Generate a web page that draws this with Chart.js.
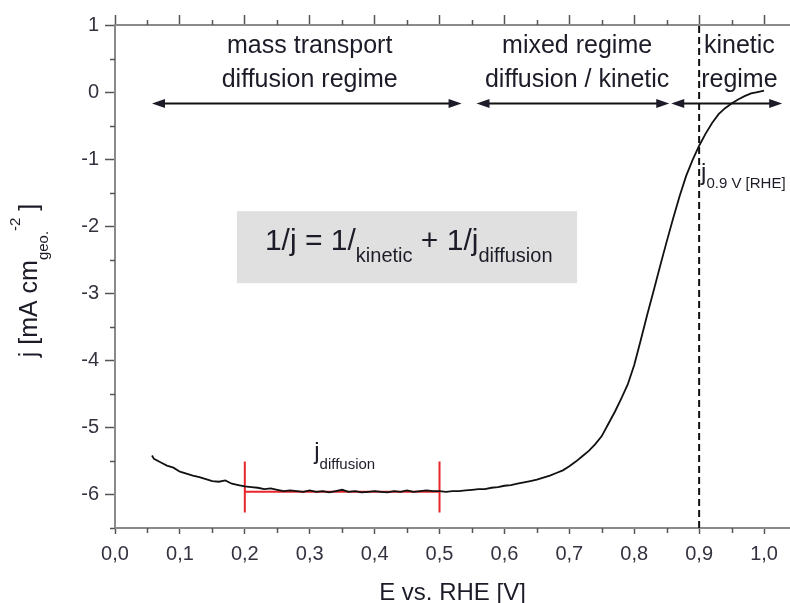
<!DOCTYPE html>
<html>
<head>
<meta charset="utf-8">
<script src="https://cdn.jsdelivr.net/npm/chart.js@4.4.1/dist/chart.umd.min.js"></script>
<style>
  html, body { margin: 0; padding: 0; background: #fff; }
  #wrap { width: 790px; height: 603px; position: relative; }
</style>
</head>
<body>
<div id="wrap"><canvas id="orrChart"></canvas></div>
<script>
// polarisation curve, E vs. RHE
const potential = [0.057, 0.06, 0.07, 0.08, 0.09, 0.10, 0.11, 0.12, 0.13, 0.14,
  0.15, 0.16, 0.17, 0.18, 0.19, 0.20, 0.21, 0.22, 0.23, 0.24,
  0.25, 0.26, 0.27, 0.28, 0.29, 0.30, 0.31, 0.32, 0.33, 0.34,
  0.35, 0.36, 0.37, 0.38, 0.39, 0.40, 0.41, 0.42, 0.43, 0.44,
  0.45, 0.46, 0.47, 0.48, 0.49, 0.50, 0.51, 0.52, 0.53, 0.54,
  0.55, 0.56, 0.57, 0.58, 0.59, 0.60, 0.61, 0.62, 0.63, 0.64,
  0.65, 0.66, 0.67, 0.68, 0.69, 0.70, 0.71, 0.72, 0.73, 0.74,
  0.75, 0.76, 0.77, 0.78, 0.79, 0.80, 0.81, 0.82, 0.83, 0.84,
  0.85, 0.86, 0.87, 0.88, 0.89, 0.90, 0.91, 0.92, 0.93, 0.94,
  0.95, 0.96, 0.97, 0.98, 0.99, 1.00];
const current = [-5.42, -5.47, -5.52, -5.57, -5.60, -5.66, -5.69, -5.72, -5.74, -5.77,
  -5.80, -5.81, -5.79, -5.84, -5.86, -5.88, -5.89, -5.90, -5.92, -5.91,
  -5.93, -5.95, -5.94, -5.95, -5.96, -5.94, -5.96, -5.95, -5.97, -5.95,
  -5.93, -5.96, -5.95, -5.97, -5.96, -5.95, -5.96, -5.97, -5.95, -5.96,
  -5.94, -5.96, -5.95, -5.94, -5.95, -5.95, -5.96, -5.95, -5.95, -5.94,
  -5.93, -5.92, -5.92, -5.90, -5.89, -5.87, -5.86, -5.84, -5.82, -5.80,
  -5.78, -5.75, -5.72, -5.68, -5.64, -5.58, -5.51, -5.43, -5.35, -5.25,
  -5.13, -4.95, -4.77, -4.57, -4.36, -4.07, -3.70, -3.32, -2.96, -2.59,
  -2.23, -1.88, -1.55, -1.25, -1.01, -0.80, -0.62, -0.46, -0.33, -0.24,
  -0.17, -0.11, -0.06, -0.02, 0.00, 0.02];

// j_diffusion read-out (red)
const limitX = [0.2, 0.5];
const limitLevel = -5.96;
const limitBar = [-5.51, -6.27];
// marker at 0.9 V
const markerX = 0.9;

const xTicks = [0, 0.1, 0.2, 0.3, 0.4, 0.5, 0.6, 0.7, 0.8, 0.9, 1.0];
const yTicks = [-6, -5, -4, -3, -2, -1, 0, 1];

const FONT = "'Liberation Sans', Arial, sans-serif";
const INK = '#1c1c28';

// annotation layout (data coordinates)
const regimes = [
  { lines: ['mass transport', 'diffusion regime'], x: 0.30, from: 0.057, to: 0.534 },
  { lines: ['mixed regime', 'diffusion / kinetic'], x: 0.712, from: 0.557, to: 0.854 },
  { lines: ['kinetic', 'regime'], x: 0.962, from: 0.857, to: 1.028 }
];

function drawRich(ctx, parts, x, y) {
  let cx = x;
  parts.forEach(p => {
    ctx.font = p.size + 'px ' + FONT;
    ctx.fillText(p.t, cx, y + (p.dy || 0));
    cx += ctx.measureText(p.t).width;
  });
  return cx - x;
}
function richWidth(ctx, parts) {
  let w = 0;
  parts.forEach(p => { ctx.font = p.size + 'px ' + FONT; w += ctx.measureText(p.t).width; });
  return w;
}

function arrowHead(ctx, x, y, dir) {
  ctx.beginPath();
  ctx.moveTo(x, y);
  ctx.lineTo(x - dir * 13, y - 4.5);
  ctx.lineTo(x - dir * 13, y + 4.5);
  ctx.closePath();
  ctx.fill();
}

const overlay = {
  id: 'overlay',
  beforeDatasetsDraw(chart) {
    const { ctx, scales: { x, y } } = chart;
    ctx.save();
    ctx.fillStyle = '#e0e0e0';
    const l = x.getPixelForValue(0.188), r = x.getPixelForValue(0.712);
    const t = y.getPixelForValue(-1.776), b = y.getPixelForValue(-2.85);
    ctx.fillRect(l, t, r - l, b - t);
    ctx.restore();
  },
  afterDraw(chart) {
    const { ctx, scales: { x, y }, chartArea } = chart;
    ctx.save();

    // minor ticks
    ctx.strokeStyle = '#555';
    ctx.lineWidth = 1.5;
    ctx.beginPath();
    for (let v = 0.05; v < 1.04; v += 0.1) {
      const px = Math.round(x.getPixelForValue(v)) + 0.5;
      ctx.moveTo(px, chartArea.bottom); ctx.lineTo(px, chartArea.bottom + 5);
      ctx.moveTo(px, chartArea.top); ctx.lineTo(px, chartArea.top - 5);
    }
    for (let v = -6.5; v < 1; v += 1) {
      const py = Math.round(y.getPixelForValue(v)) + 0.5;
      ctx.moveTo(chartArea.left, py); ctx.lineTo(chartArea.left - 5, py);
    }
    ctx.stroke();

    // regime labels and arrows
    ctx.fillStyle = INK;
    ctx.strokeStyle = '#111';
    ctx.textAlign = 'center';
    ctx.textBaseline = 'alphabetic';
    ctx.font = '25px ' + FONT;
    const ay = y.getPixelForValue(-0.17);
    regimes.forEach(g => {
      const cx = x.getPixelForValue(g.x);
      ctx.fillText(g.lines[0], cx, y.getPixelForValue(0.58));
      ctx.fillText(g.lines[1], cx, y.getPixelForValue(0.08));
      const x0 = x.getPixelForValue(g.from), x1 = x.getPixelForValue(g.to);
      ctx.lineWidth = 2;
      ctx.beginPath();
      ctx.moveTo(x0 + 6, ay); ctx.lineTo(x1 - 6, ay);
      ctx.stroke();
      arrowHead(ctx, x0, ay, -1);
      arrowHead(ctx, x1, ay, 1);
    });

    // formula in grey box
    ctx.textAlign = 'left';
    drawRich(ctx, [
      { t: '1/j = 1/', size: 30 },
      { t: 'kinetic', size: 20, dy: 12 },
      { t: ' + 1/j', size: 30 },
      { t: 'diffusion', size: 20, dy: 12 }
    ], x.getPixelForValue(0.231), y.getPixelForValue(-2.36));

    // j at 0.9 V
    drawRich(ctx, [
      { t: 'j', size: 24 },
      { t: '0.9 V [RHE]', size: 15, dy: 8 }
    ], x.getPixelForValue(0.903), y.getPixelForValue(-1.31));

    // j diffusion
    drawRich(ctx, [
      { t: 'j', size: 24 },
      { t: 'diffusion', size: 15, dy: 10 }
    ], x.getPixelForValue(0.307), y.getPixelForValue(-5.47));

    // y-axis title with sub/superscript
    const yTitle = [
      { t: 'j [mA cm', size: 25 },
      { t: 'geo.', size: 15, dy: 11 },
      { t: '-2', size: 15, dy: -17 },
      { t: ' ]', size: 25 }
    ];
    const w = richWidth(ctx, yTitle);
    ctx.translate(37, (chartArea.top + chartArea.bottom) / 2 + 4);
    ctx.rotate(-Math.PI / 2);
    drawRich(ctx, yTitle, -w / 2, 0);

    ctx.restore();
  }
};

const curvePoints = potential.map((e, i) => ({ x: e, y: current[i] }));

new Chart(document.getElementById('orrChart'), {
  type: 'line',
  data: {
    datasets: [
      {
        data: curvePoints,
        borderColor: '#111', borderWidth: 1.8, pointRadius: 0, tension: 0
      },
      {
        data: limitX.map(v => ({ x: v, y: limitLevel })),
        borderColor: '#e8262c', borderWidth: 2, pointRadius: 0
      },
      {
        data: limitBar.map(v => ({ x: limitX[0], y: v })),
        borderColor: '#e8262c', borderWidth: 2, pointRadius: 0
      },
      {
        data: limitBar.map(v => ({ x: limitX[1], y: v })),
        borderColor: '#e8262c', borderWidth: 2, pointRadius: 0
      },
      {
        data: [{ x: markerX, y: -6.5 }, { x: markerX, y: 1 }],
        borderColor: '#111', borderWidth: 2, borderDash: [7, 4], pointRadius: 0
      }
    ]
  },
  options: {
    responsive: true,
    maintainAspectRatio: false,
    animation: false,
    layout: { padding: 0 },
    plugins: { legend: { display: false }, tooltip: { enabled: false } },
    scales: {
      x: {
        type: 'linear', position: 'bottom', min: 0, max: 1.04,
        afterBuildTicks: s => { s.ticks = xTicks.map(v => ({ value: v })); },
        afterFit: s => { s.height = 75; },
        grid: { drawOnChartArea: false, tickLength: 6, tickColor: '#555', tickWidth: 1.5 },
        border: { color: '#8a8a8a', width: 2 },
        ticks: {
          callback: v => v.toFixed(1).replace('.', ','),
          font: { size: 20, family: FONT }, color: '#333340', padding: 8,
          maxRotation: 0, autoSkip: false
        },
        title: {
          display: true, text: 'E vs. RHE [V]', color: INK,
          font: { size: 24, family: FONT }, padding: { top: 0, bottom: -5 }
        }
      },
      xTop: {
        type: 'linear', position: 'top', min: 0, max: 1.04,
        afterBuildTicks: s => { s.ticks = xTicks.map(v => ({ value: v })); },
        afterFit: s => { s.height = 25; },
        grid: { drawOnChartArea: false, tickLength: 10, tickColor: '#555', tickWidth: 1.5 },
        border: { color: '#8a8a8a', width: 2 },
        ticks: { display: false }
      },
      y: {
        type: 'linear', min: -6.5, max: 1,
        afterBuildTicks: s => { s.ticks = yTicks.map(v => ({ value: v })); },
        afterFit: s => { s.width = 115; },
        grid: { drawOnChartArea: false, tickLength: 10, tickColor: '#555', tickWidth: 1.5 },
        border: { color: '#8a8a8a', width: 2 },
        ticks: {
          callback: v => String(v),
          font: { size: 20, family: FONT }, color: '#333340', padding: 6
        }
      }
    }
  },
  plugins: [overlay]
});
</script>
</body>
</html>
